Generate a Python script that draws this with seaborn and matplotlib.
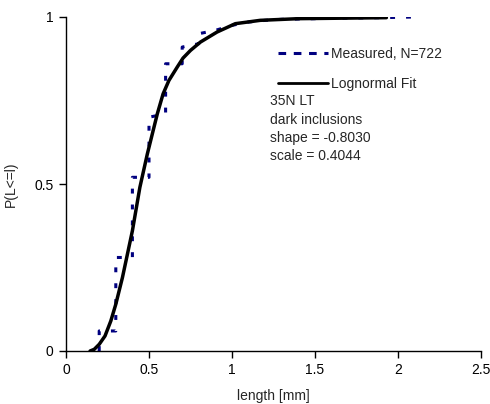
import matplotlib
matplotlib.use("Agg")
import matplotlib.pyplot as plt
import seaborn as sns
import pandas as pd

meas_x = [0.2, 0.2, 0.3, 0.3, 0.4, 0.4, 0.5, 0.5, 0.6, 0.6, 0.7, 0.7, 0.8, 0.8,
          0.9, 1.0, 1.1, 1.2, 1.3, 1.5, 1.7, 1.9, 2.1]
meas_y = [0.0, 0.06, 0.06, 0.28, 0.28, 0.52, 0.52, 0.70, 0.71, 0.86, 0.86, 0.91,
          0.92, 0.95, 0.96, 0.975, 0.985, 0.99, 0.993, 0.995, 0.997, 0.998, 1.0]

# Lognormal fit curve
fit_x = [0.145, 0.17, 0.20, 0.235, 0.27, 0.30, 0.34, 0.37, 0.40, 0.445, 0.49,
         0.52, 0.55, 0.585, 0.62, 0.67, 0.705, 0.75, 0.81, 0.91, 1.02, 1.17,
         1.4, 1.93]
fit_y = [0.0, 0.005, 0.02, 0.045, 0.09, 0.14, 0.22, 0.29, 0.36, 0.49, 0.59,
         0.65, 0.71, 0.77, 0.81, 0.85, 0.877, 0.90, 0.925, 0.955, 0.98, 0.99,
         0.995, 0.998]

x_ticks = [0, 0.5, 1, 1.5, 2, 2.5]
x_tick_labels = ["0", "0.5", "1", "1.5", "2", "2.5"]
y_ticks = [0, 0.5, 1]
y_tick_labels = ["0", "0.5", "1"]

label_meas = "Measured, N=722"
label_fit = "Lognormal Fit"
note_lines = ["35N LT", "dark inclusions", "shape = -0.8030", "scale = 0.4044"]

sns.set_style("ticks")
plt.rcParams["font.family"] = ["Liberation Sans", "DejaVu Sans"]
plt.rcParams["font.size"] = 10

fig = plt.figure(figsize=(4.9, 4.04), dpi=100)
ax = fig.add_axes([66 / 490, 1 - 351 / 404, 415 / 490, 334 / 404])

df_m = pd.DataFrame({"x": meas_x, "y": meas_y})
df_f = pd.DataFrame({"x": fit_x, "y": fit_y})

sns.lineplot(data=df_m, x="x", y="y", ax=ax, sort=False, estimator=None,
             color="#000080", linewidth=2.2, label=label_meas)
ax.lines[-1].set_dashes((1.6, 3.6))
sns.lineplot(data=df_f, x="x", y="y", ax=ax, sort=False, estimator=None,
             color="black", linewidth=2.5, label=label_fit)

ax.set_xlim(0, 2.5)
ax.set_ylim(0, 1)
ax.set_xticks(x_ticks)
ax.set_xticklabels(x_tick_labels)
ax.set_yticks(y_ticks)
ax.set_yticklabels(y_tick_labels)
ax.set_xlabel("length [mm]", fontsize=10, labelpad=8)
ax.set_ylabel("P(L<=l)", fontsize=10, labelpad=12)
ax.tick_params(direction="out", length=5, width=1, colors="black",
               labelsize=10, pad=4)
sns.despine(ax=ax)
for s in ["left", "bottom"]:
    ax.spines[s].set_color("black")
    ax.spines[s].set_linewidth(1)

leg = ax.legend(loc="upper left", bbox_to_anchor=(0.511, 0.91),
                frameon=False, handlelength=3.6, handletextpad=0.2,
                labelspacing=1.12, borderpad=0, borderaxespad=0, fontsize=10)
leg.get_lines()[0].set_dashes((2.5, 2.5))
leg.get_lines()[1].set_linewidth(2)

ax.text(0.4916, 0.769, "\n".join(note_lines), transform=ax.transAxes,
        ha="left", va="top", fontsize=10, linespacing=1.4)

fig.savefig("out.png", dpi=100)
